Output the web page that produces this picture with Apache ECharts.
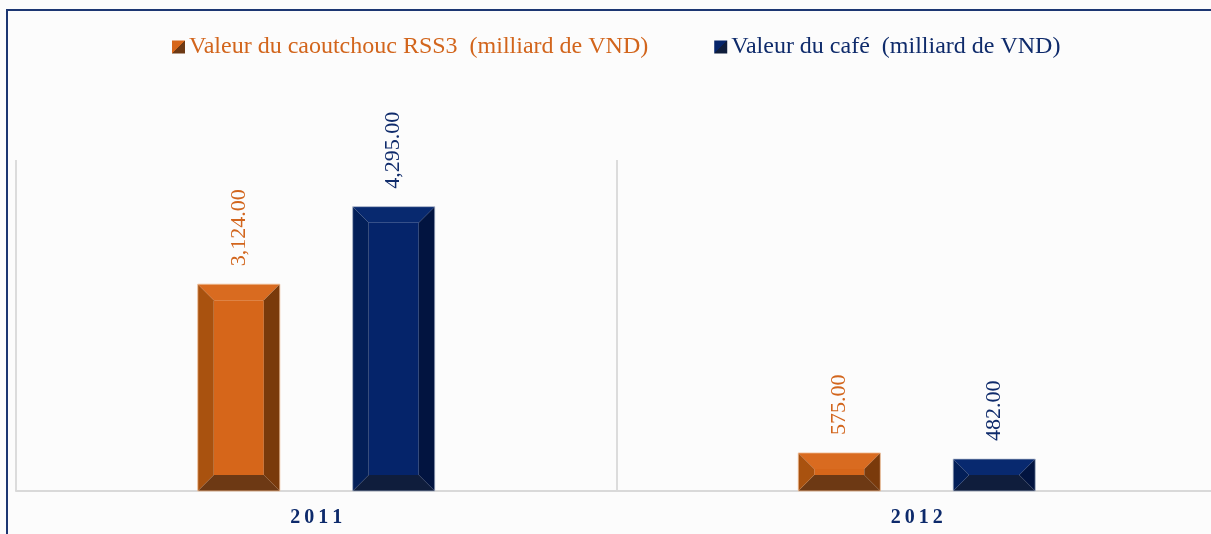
<!DOCTYPE html>
<html>
<head>
<meta charset="utf-8">
<script src="https://cdn.jsdelivr.net/npm/echarts@6/dist/echarts.min.js"></script>
<style>
html,body{margin:0;padding:0;background:#fcfcfc;overflow:hidden;}
#c{width:1224px;height:534px;}
</style>
</head>
<body>
<div id="c"></div>
<script>
// ---- data ----
const categories = ['2011', '2012'];
const seriesNames = ['Valeur du caoutchouc RSS3  (milliard de VND)', 'Valeur du café  (milliard de VND)'];
const rubberValues = [3124, 575];
const coffeeValues = [4295, 482];

// ---- styles ----
const SERIF = '"Liberation Serif", "Times New Roman", serif';
const ORANGE = {face:'#d6661a', top:'#d96b20', left:'#a9520f', right:'#7a3a0b', bottom:'#6d3914', text:'#d2651c', edge:'rgba(240,190,150,0.8)'};
const NAVY = {face:'#05246a', top:'#08296f', left:'#031f58', right:'#021440', bottom:'#0f1d3c', text:'#0f2b6b', edge:'rgba(170,180,200,0.7)'};

function fmt(v){ return v.toLocaleString('en-US',{minimumFractionDigits:2, maximumFractionDigits:2}); }

function makeRender(offsetFrac, col){
  return function(params, api){
    const cat = api.value(0), v = api.value(1);
    const base = api.coord([cat, 0]);
    const top = api.coord([cat, v]);
    const band = api.size([1, 0])[0];
    const w = band * 0.1366;
    const cx = base[0] + band * offsetFrac;
    const x0 = cx - w/2, x1 = cx + w/2, y0 = top[1], y1 = base[1];
    const b = Math.min(16, (y1 - y0)/2);
    const poly = (pts, fill) => ({type:'polygon', shape:{points:pts}, style:{fill:fill}});
    return {
      type:'group',
      children:[
        {type:'rect', shape:{x:x0+b, y:y0+b, width:w-2*b, height:Math.max(0,(y1-y0)-2*b)}, style:{fill:col.face}},
        poly([[x0,y0],[x1,y0],[x1-b,y0+b],[x0+b,y0+b]], col.top),
        poly([[x0,y1],[x1,y1],[x1-b,y1-b],[x0+b,y1-b]], col.bottom),
        poly([[x0,y0],[x0+b,y0+b],[x0+b,y1-b],[x0,y1]], col.left),
        poly([[x1,y0],[x1-b,y0+b],[x1-b,y1-b],[x1,y1]], col.right),
        {type:'rect', shape:{x:x0, y:y0, width:w, height:y1-y0}, style:{fill:null, stroke:col.edge, lineWidth:1}},
        {type:'text', x:cx, y:y0-18, rotation:Math.PI/2,
          style:{text:fmt(v), fill:col.text, font:'22px ' + SERIF, align:'left', verticalAlign:'middle'}}
      ]
    };
  };
}

const chart = echarts.init(document.getElementById('c'), null, {renderer:'canvas'});
chart.setOption({
  backgroundColor:'#fcfcfc',
  animation:false,
  graphic:[{type:'rect', shape:{x:7, y:10, width:1300, height:600}, style:{fill:null, stroke:'#1c3672', lineWidth:2}, silent:true}],
  legend:{
    left:172, top:35, padding:0, icon:'rect', itemWidth:13, itemHeight:13, itemGap:66,
    textStyle:{fontFamily:SERIF, fontSize:24, padding:[0,0,0,-1]},
    data:[
      {name:seriesNames[0], textStyle:{color:ORANGE.text}},
      {name:seriesNames[1], textStyle:{color:NAVY.text}}
    ]
  },
  grid:{left:16, width:1201, top:160, bottom:43},
  xAxis:{
    type:'category', data:categories,
    axisLine:{show:true, lineStyle:{color:'#d9d9d9', width:2}},
    axisTick:{show:false},
    splitLine:{show:true, interval:0, lineStyle:{color:'#dcdcdc', width:2}},
    axisLabel:{formatter:v => v.split('').join('\u2009'), fontFamily:SERIF, fontWeight:'bold', fontSize:20, color:'#0d2a6b', margin:17}
  },
  yAxis:{type:'value', min:0, max:5000, show:false, splitLine:{show:false}},
  series:[
    {name:seriesNames[0], type:'custom', renderItem:makeRender(-0.129, ORANGE),
     itemStyle:{color:new echarts.graphic.LinearGradient(0,0,1,1,[{offset:0,color:ORANGE.face},{offset:0.5,color:ORANGE.face},{offset:0.5,color:ORANGE.bottom},{offset:1,color:ORANGE.bottom}])},
     data:categories.map((c,i)=>[i, rubberValues[i]])},
    {name:seriesNames[1], type:'custom', renderItem:makeRender(0.129, NAVY),
     itemStyle:{color:new echarts.graphic.LinearGradient(0,0,1,1,[{offset:0,color:NAVY.face},{offset:0.5,color:NAVY.face},{offset:0.5,color:NAVY.bottom},{offset:1,color:NAVY.bottom}])},
     data:categories.map((c,i)=>[i, coffeeValues[i]])}
  ]
});
</script>
</body>
</html>
